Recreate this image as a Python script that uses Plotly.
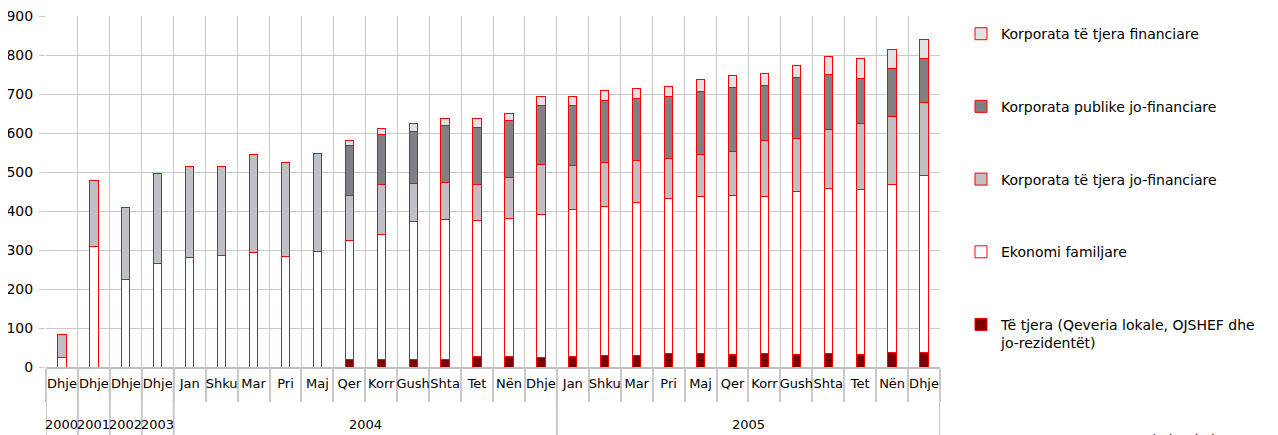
import plotly.graph_objects as go

months = ["Dhje", "Dhje", "Dhje", "Dhje",
          "Jan", "Shku", "Mar", "Pri", "Maj", "Qer", "Korr", "Gush", "Shta", "Tet", "Nën", "Dhje",
          "Jan", "Shku", "Mar", "Pri", "Maj", "Qer", "Korr", "Gush", "Shta", "Tet", "Nën", "Dhje"]
year_labels = ["2000", "2001", "2002", "2003", "2004", "2005"]
year_counts = [1, 1, 1, 1, 12, 12]

te_tjera = [0, 0, 0, 0, 0, 0, 0, 0, 0, 20, 20, 20, 20, 26, 26, 25,
            27, 30, 30, 34, 34, 32, 35, 32, 35, 33, 38, 38]
ekonomi = [24, 309, 225, 265, 280, 285, 293, 284, 297, 304, 320, 352, 358, 349, 354, 367,
           377, 381, 392, 397, 402, 408, 401, 417, 423, 421, 431, 453]
jo_fin = [60, 169, 183, 230, 234, 229, 251, 240, 250, 115, 127, 98, 96, 94, 106, 128,
          113, 114, 107, 104, 110, 112, 146, 138, 152, 170, 174, 186]
publike = [0, 0, 0, 0, 0, 0, 0, 0, 0, 130, 130, 135, 144, 146, 145, 151,
           153, 158, 160, 158, 161, 165, 141, 156, 141, 117, 122, 114]
financiare = [0, 0, 0, 0, 0, 0, 0, 0, 0, 13, 15, 19, 20, 21, 20, 23,
              24, 25, 25, 25, 30, 31, 29, 29, 46, 49, 50, 50]

series = [
    ("Të tjera (Qeveria lokale, OJSHEF dhe<br>jo-rezidentët)", te_tjera, "#800000", 5),
    ("Ekonomi familjare", ekonomi, "#FFFFFF", 4),
    ("Korporata të tjera jo-financiare", jo_fin, "#C0C0C0", 3),
    ("Korporata publike jo-financiare", publike, "#808080", 2),
    ("Korporata të tjera financiare", financiare, "#E2E2E2", 1),
]

FONT = "DejaVu Sans, Verdana, sans-serif"
GRID = "#C8C8C8"
n = len(months)
xs = list(range(n))

fig = go.Figure()
for i, (name, vals, col, rank) in enumerate(series):
    xv = [x for x, v in zip(xs, vals) if v > 0]
    yv = [v for v in vals if v > 0]
    fig.add_trace(go.Bar(
        x=xv, y=yv, name=name,
        marker=dict(color=col, line=dict(color="#FF0000", width=1)),
        width=0.26, legendgroup=f"g{i}", legendrank=rank,
    ))

fig.update_layout(
    barmode="stack",
    width=1270, height=427,
    margin=dict(l=38, r=338, t=8, b=68, autoexpand=False),
    paper_bgcolor="white", plot_bgcolor="white",
    font=dict(family=FONT, size=13, color="#000000"),
    showlegend=True,
    legend=dict(
        x=1.0235, y=0.994, xanchor="left", yanchor="top",
        traceorder="grouped", tracegroupgap=51.5, maxheight=1000,
        valign="top", font=dict(family=FONT, size=14),
        bgcolor="rgba(0,0,0,0)", itemwidth=30,
    ),
    xaxis=dict(
        range=[-0.5, n - 0.5], tickmode="array", tickvals=xs, ticktext=months,
        tickangle=0, showgrid=False, ticks="", ticklabelstandoff=3,
        ticklabeloverflow="allow",
        showline=True, linecolor="#BFBFBF", linewidth=2, zeroline=False,
        tickfont=dict(family=FONT, size=13),
        minor=dict(tick0=-0.5, dtick=1, showgrid=True, gridcolor=GRID, gridwidth=1,
                   ticks="outside", ticklen=33, tickcolor=GRID, tickwidth=2),
    ),
    yaxis=dict(
        range=[0, 900], dtick=100, showgrid=True, gridcolor=GRID, gridwidth=1,
        ticks="outside", ticklen=6, tickcolor=GRID, zeroline=False, ticklabelstandoff=3,
        ticklabeloverflow="allow",
        tickfont=dict(family=FONT, size=14), showline=False,
    ),
)

# year row: labels and group dividers
start = 0
bounds = [-0.5]
for lab, cnt in zip(year_labels, year_counts):
    center = start + (cnt - 1) / 2
    fig.add_annotation(text=lab, xref="x", yref="paper", x=center, y=-0.163,
                       xanchor="center", yanchor="middle", showarrow=False,
                       font=dict(family=FONT, size=13))
    start += cnt
    bounds.append(start - 0.5)
for b in bounds:
    fig.add_shape(type="line", xref="x", yref="paper", x0=b, x1=b, y0=0, y1=-0.2,
                  line=dict(color=GRID, width=2))

fig.add_annotation(
    text="Burimi: Tabela 14", xref="paper", yref="paper",
    x=1.21, y=-0.18, xanchor="left", yanchor="top", showarrow=False,
    font=dict(family=FONT, size=13),
)

fig.write_html("out.html")
